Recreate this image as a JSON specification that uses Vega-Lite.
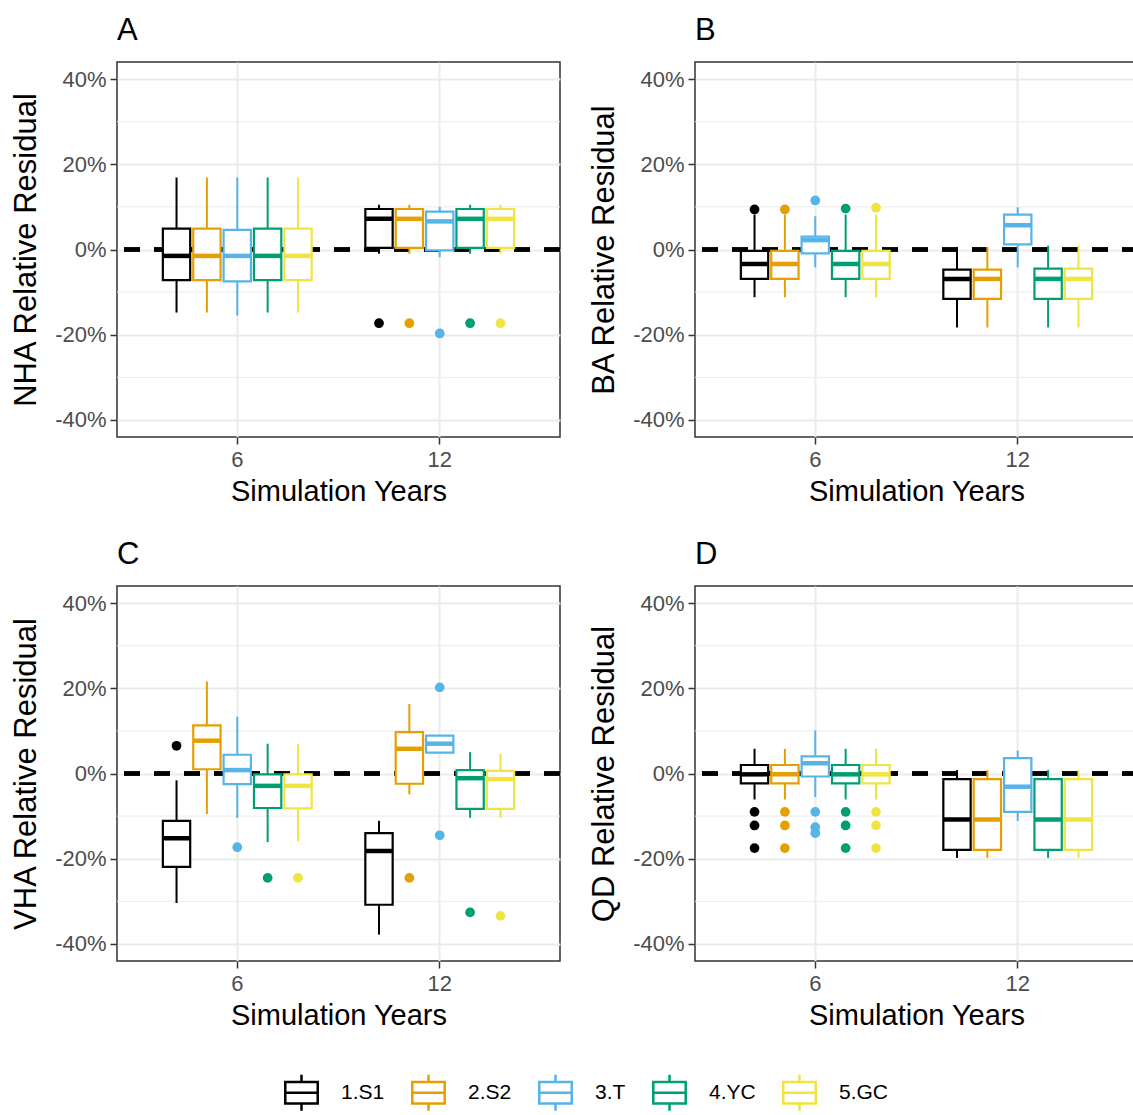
{
  "$schema": "https://vega.github.io/schema/vega-lite/v6.json",
  "padding": {"left": 9, "top": 14, "right": 0, "bottom": 0},
  "datasets": {
    "boxes": [
      {"panel": "A", "year": "6", "group": "1.S1", "lo": -0.148, "q1": -0.072, "med": -0.015, "q3": 0.049, "hi": 0.169},
      {"panel": "A", "year": "6", "group": "2.S2", "lo": -0.148, "q1": -0.072, "med": -0.015, "q3": 0.049, "hi": 0.169},
      {"panel": "A", "year": "6", "group": "3.T", "lo": -0.155, "q1": -0.075, "med": -0.015, "q3": 0.046, "hi": 0.169},
      {"panel": "A", "year": "6", "group": "4.YC", "lo": -0.148, "q1": -0.072, "med": -0.015, "q3": 0.049, "hi": 0.169},
      {"panel": "A", "year": "6", "group": "5.GC", "lo": -0.148, "q1": -0.072, "med": -0.015, "q3": 0.049, "hi": 0.169},
      {"panel": "A", "year": "12", "group": "1.S1", "lo": -0.010, "q1": 0.004, "med": 0.072, "q3": 0.095, "hi": 0.105},
      {"panel": "A", "year": "12", "group": "2.S2", "lo": -0.010, "q1": 0.004, "med": 0.072, "q3": 0.095, "hi": 0.105},
      {"panel": "A", "year": "12", "group": "3.T", "lo": -0.018, "q1": -0.002, "med": 0.066, "q3": 0.089, "hi": 0.100},
      {"panel": "A", "year": "12", "group": "4.YC", "lo": -0.010, "q1": 0.004, "med": 0.072, "q3": 0.095, "hi": 0.105},
      {"panel": "A", "year": "12", "group": "5.GC", "lo": -0.010, "q1": 0.004, "med": 0.072, "q3": 0.095, "hi": 0.105},
      {"panel": "B", "year": "6", "group": "1.S1", "lo": -0.112, "q1": -0.069, "med": -0.034, "q3": -0.003, "hi": 0.082},
      {"panel": "B", "year": "6", "group": "2.S2", "lo": -0.112, "q1": -0.069, "med": -0.034, "q3": -0.003, "hi": 0.082},
      {"panel": "B", "year": "6", "group": "3.T", "lo": -0.042, "q1": -0.009, "med": 0.022, "q3": 0.030, "hi": 0.078},
      {"panel": "B", "year": "6", "group": "4.YC", "lo": -0.112, "q1": -0.069, "med": -0.034, "q3": -0.003, "hi": 0.082},
      {"panel": "B", "year": "6", "group": "5.GC", "lo": -0.112, "q1": -0.069, "med": -0.034, "q3": -0.003, "hi": 0.082},
      {"panel": "B", "year": "12", "group": "1.S1", "lo": -0.183, "q1": -0.116, "med": -0.069, "q3": -0.047, "hi": 0.006},
      {"panel": "B", "year": "12", "group": "2.S2", "lo": -0.183, "q1": -0.116, "med": -0.069, "q3": -0.047, "hi": 0.006},
      {"panel": "B", "year": "12", "group": "3.T", "lo": -0.042, "q1": 0.012, "med": 0.057, "q3": 0.082, "hi": 0.099},
      {"panel": "B", "year": "12", "group": "4.YC", "lo": -0.183, "q1": -0.116, "med": -0.069, "q3": -0.045, "hi": 0.009},
      {"panel": "B", "year": "12", "group": "5.GC", "lo": -0.183, "q1": -0.116, "med": -0.069, "q3": -0.045, "hi": 0.009},
      {"panel": "C", "year": "6", "group": "1.S1", "lo": -0.304, "q1": -0.219, "med": -0.152, "q3": -0.111, "hi": -0.016},
      {"panel": "C", "year": "6", "group": "2.S2", "lo": -0.095, "q1": 0.010, "med": 0.077, "q3": 0.113, "hi": 0.216},
      {"panel": "C", "year": "6", "group": "3.T", "lo": -0.104, "q1": -0.025, "med": 0.008, "q3": 0.044, "hi": 0.133},
      {"panel": "C", "year": "6", "group": "4.YC", "lo": -0.161, "q1": -0.081, "med": -0.029, "q3": -0.002, "hi": 0.070},
      {"panel": "C", "year": "6", "group": "5.GC", "lo": -0.159, "q1": -0.082, "med": -0.029, "q3": -0.002, "hi": 0.070},
      {"panel": "C", "year": "12", "group": "1.S1", "lo": -0.378, "q1": -0.308, "med": -0.182, "q3": -0.140, "hi": -0.111},
      {"panel": "C", "year": "12", "group": "2.S2", "lo": -0.049, "q1": -0.024, "med": 0.058, "q3": 0.097, "hi": 0.163},
      {"panel": "C", "year": "12", "group": "3.T", "lo": 0.049, "q1": 0.049, "med": 0.070, "q3": 0.089, "hi": 0.089},
      {"panel": "C", "year": "12", "group": "4.YC", "lo": -0.104, "q1": -0.083, "med": -0.011, "q3": 0.008, "hi": 0.050},
      {"panel": "C", "year": "12", "group": "5.GC", "lo": -0.104, "q1": -0.083, "med": -0.013, "q3": 0.006, "hi": 0.046},
      {"panel": "D", "year": "6", "group": "1.S1", "lo": -0.061, "q1": -0.023, "med": -0.002, "q3": 0.020, "hi": 0.058},
      {"panel": "D", "year": "6", "group": "2.S2", "lo": -0.061, "q1": -0.023, "med": -0.002, "q3": 0.020, "hi": 0.058},
      {"panel": "D", "year": "6", "group": "3.T", "lo": -0.055, "q1": -0.007, "med": 0.024, "q3": 0.040, "hi": 0.101},
      {"panel": "D", "year": "6", "group": "4.YC", "lo": -0.061, "q1": -0.023, "med": -0.002, "q3": 0.020, "hi": 0.058},
      {"panel": "D", "year": "6", "group": "5.GC", "lo": -0.061, "q1": -0.023, "med": -0.002, "q3": 0.020, "hi": 0.058},
      {"panel": "D", "year": "12", "group": "1.S1", "lo": -0.198, "q1": -0.179, "med": -0.108, "q3": -0.013, "hi": 0.008},
      {"panel": "D", "year": "12", "group": "2.S2", "lo": -0.198, "q1": -0.179, "med": -0.108, "q3": -0.013, "hi": 0.008},
      {"panel": "D", "year": "12", "group": "3.T", "lo": -0.111, "q1": -0.090, "med": -0.031, "q3": 0.036, "hi": 0.054},
      {"panel": "D", "year": "12", "group": "4.YC", "lo": -0.198, "q1": -0.179, "med": -0.108, "q3": -0.013, "hi": 0.008},
      {"panel": "D", "year": "12", "group": "5.GC", "lo": -0.198, "q1": -0.179, "med": -0.108, "q3": -0.013, "hi": 0.008}
    ],
    "outliers": [
      {"panel": "A", "year": "12", "group": "1.S1", "value": -0.173},
      {"panel": "A", "year": "12", "group": "2.S2", "value": -0.173},
      {"panel": "A", "year": "12", "group": "3.T", "value": -0.197},
      {"panel": "A", "year": "12", "group": "4.YC", "value": -0.173},
      {"panel": "A", "year": "12", "group": "5.GC", "value": -0.173},
      {"panel": "B", "year": "6", "group": "1.S1", "value": 0.094},
      {"panel": "B", "year": "6", "group": "2.S2", "value": 0.094},
      {"panel": "B", "year": "6", "group": "3.T", "value": 0.115},
      {"panel": "B", "year": "6", "group": "4.YC", "value": 0.096},
      {"panel": "B", "year": "6", "group": "5.GC", "value": 0.098},
      {"panel": "C", "year": "6", "group": "1.S1", "value": 0.065},
      {"panel": "C", "year": "6", "group": "3.T", "value": -0.173},
      {"panel": "C", "year": "6", "group": "4.YC", "value": -0.245},
      {"panel": "C", "year": "6", "group": "5.GC", "value": -0.245},
      {"panel": "C", "year": "12", "group": "2.S2", "value": -0.245},
      {"panel": "C", "year": "12", "group": "3.T", "value": 0.202},
      {"panel": "C", "year": "12", "group": "3.T", "value": -0.145},
      {"panel": "C", "year": "12", "group": "4.YC", "value": -0.326},
      {"panel": "C", "year": "12", "group": "5.GC", "value": -0.334},
      {"panel": "D", "year": "6", "group": "1.S1", "value": -0.090},
      {"panel": "D", "year": "6", "group": "1.S1", "value": -0.122},
      {"panel": "D", "year": "6", "group": "1.S1", "value": -0.175},
      {"panel": "D", "year": "6", "group": "2.S2", "value": -0.090},
      {"panel": "D", "year": "6", "group": "2.S2", "value": -0.122},
      {"panel": "D", "year": "6", "group": "2.S2", "value": -0.175},
      {"panel": "D", "year": "6", "group": "3.T", "value": -0.090},
      {"panel": "D", "year": "6", "group": "3.T", "value": -0.126},
      {"panel": "D", "year": "6", "group": "3.T", "value": -0.140},
      {"panel": "D", "year": "6", "group": "4.YC", "value": -0.090},
      {"panel": "D", "year": "6", "group": "4.YC", "value": -0.122},
      {"panel": "D", "year": "6", "group": "4.YC", "value": -0.175},
      {"panel": "D", "year": "6", "group": "5.GC", "value": -0.090},
      {"panel": "D", "year": "6", "group": "5.GC", "value": -0.122},
      {"panel": "D", "year": "6", "group": "5.GC", "value": -0.175}
    ],
    "minor": [{"v": -0.3}, {"v": -0.1}, {"v": 0.1}, {"v": 0.3}]
  },
  "columns": 2,
  "spacing": {"row": 31, "column": 24},
  "resolve": {"scale": {"stroke": "shared", "fill": "shared"}, "legend": {"stroke": "shared"}},
  "concat": [
    {
      "title": {"text": "A", "fontSize": 31, "anchor": "start", "frame": "group", "fontWeight": "normal", "offset": 15},
      "width": 443, "height": 375,
      "layer": [
        {"data": {"name": "minor"}, "mark": {"type": "rule", "color": "#EBEBEB", "strokeWidth": 1},
         "encoding": {"y": {"field": "v", "type": "quantitative", "scale": {"domain": [-0.44, 0.44], "nice": false, "zero": false}, "axis": {"title": "NHA Relative Residual", "values": [-0.4, -0.2, 0, 0.2, 0.4], "labelExpr": "(datum.value < 0 ? '-' : '') + format(abs(datum.value), '.0%')"}}}},
        {"data": {"name": "minor"}, "mark": {"type": "rule", "color": "black", "strokeWidth": 4, "strokeDash": [16, 14]},
         "encoding": {"y": {"datum": 0, "type": "quantitative"}}},
        {"data": {"name": "boxes"}, "transform": [{"filter": "datum.panel == 'A'"}], "mark": {"type": "rule", "strokeWidth": 2},
         "encoding": {"x": {"field": "year", "type": "nominal", "sort": ["6", "12"], "scale": {"domain": ["6", "12"], "paddingInner": 0.25, "paddingOuter": 0.219}, "axis": {"title": "Simulation Years"}},
          "xOffset": {"field": "group", "type": "nominal", "scale": {"domain": ["1.S1", "2.S2", "3.T", "4.YC", "5.GC"], "paddingInner": 0.1, "paddingOuter": 0.05}},
          "y": {"field": "lo", "type": "quantitative"}, "y2": {"field": "hi"},
          "stroke": {"field": "group", "type": "nominal", "title": null, "scale": {"domain": ["1.S1", "2.S2", "3.T", "4.YC", "5.GC"], "range": ["#000000", "#E69F00", "#56B4E9", "#009E73", "#F0E442"]}}}},
        {"data": {"name": "boxes"}, "transform": [{"filter": "datum.panel == 'A'"}], "mark": {"type": "bar", "width": {"band": 1}, "fill": "white"},
         "encoding": {"x": {"field": "year", "type": "nominal", "sort": ["6", "12"]},
          "xOffset": {"field": "group", "type": "nominal"},
          "y": {"field": "q1", "type": "quantitative"}, "y2": {"field": "q3"}}},
        {"data": {"name": "boxes"}, "transform": [{"filter": "datum.panel == 'A'"}], "mark": {"type": "bar", "width": {"band": 1}, "filled": false, "strokeWidth": 2.2},
         "encoding": {"x": {"field": "year", "type": "nominal", "sort": ["6", "12"]},
          "xOffset": {"field": "group", "type": "nominal"},
          "y": {"field": "q1", "type": "quantitative"}, "y2": {"field": "q3"},
          "stroke": {"field": "group", "type": "nominal", "title": null}}},
        {"data": {"name": "boxes"}, "transform": [{"filter": "datum.panel == 'A'"}], "mark": {"type": "tick", "orient": "horizontal", "size": 27.3, "thickness": 4.5, "opacity": 1},
         "encoding": {"x": {"field": "year", "type": "nominal", "sort": ["6", "12"]},
          "xOffset": {"field": "group", "type": "nominal"},
          "y": {"field": "med", "type": "quantitative"},
          "fill": {"field": "group", "type": "nominal", "legend": null, "scale": {"range": ["#000000", "#E69F00", "#56B4E9", "#009E73", "#F0E442"]}}}},
        {"data": {"name": "outliers"}, "transform": [{"filter": "datum.panel == 'A'"}], "mark": {"type": "point", "filled": true, "opacity": 1, "size": 95},
         "encoding": {"x": {"field": "year", "type": "nominal", "sort": ["6", "12"]},
          "xOffset": {"field": "group", "type": "nominal"},
          "y": {"field": "value", "type": "quantitative"},
          "fill": {"field": "group", "type": "nominal", "legend": null}}}
      ]
    },
    {
      "title": {"text": "B", "fontSize": 31, "anchor": "start", "frame": "group", "fontWeight": "normal", "offset": 15},
      "width": 443, "height": 375,
      "layer": [
        {"data": {"name": "minor"}, "mark": {"type": "rule", "color": "#EBEBEB", "strokeWidth": 1},
         "encoding": {"y": {"field": "v", "type": "quantitative", "scale": {"domain": [-0.44, 0.44], "nice": false, "zero": false}, "axis": {"title": "BA Relative Residual", "values": [-0.4, -0.2, 0, 0.2, 0.4], "labelExpr": "(datum.value < 0 ? '-' : '') + format(abs(datum.value), '.0%')"}}}},
        {"data": {"name": "minor"}, "mark": {"type": "rule", "color": "black", "strokeWidth": 4, "strokeDash": [16, 14]},
         "encoding": {"y": {"datum": 0, "type": "quantitative"}}},
        {"data": {"name": "boxes"}, "transform": [{"filter": "datum.panel == 'B'"}], "mark": {"type": "rule", "strokeWidth": 2},
         "encoding": {"x": {"field": "year", "type": "nominal", "sort": ["6", "12"], "scale": {"domain": ["6", "12"], "paddingInner": 0.25, "paddingOuter": 0.219}, "axis": {"title": "Simulation Years"}},
          "xOffset": {"field": "group", "type": "nominal", "scale": {"domain": ["1.S1", "2.S2", "3.T", "4.YC", "5.GC"], "paddingInner": 0.1, "paddingOuter": 0.05}},
          "y": {"field": "lo", "type": "quantitative"}, "y2": {"field": "hi"},
          "stroke": {"field": "group", "type": "nominal", "title": null}}},
        {"data": {"name": "boxes"}, "transform": [{"filter": "datum.panel == 'B'"}], "mark": {"type": "bar", "width": {"band": 1}, "fill": "white"},
         "encoding": {"x": {"field": "year", "type": "nominal", "sort": ["6", "12"]},
          "xOffset": {"field": "group", "type": "nominal"},
          "y": {"field": "q1", "type": "quantitative"}, "y2": {"field": "q3"}}},
        {"data": {"name": "boxes"}, "transform": [{"filter": "datum.panel == 'B'"}], "mark": {"type": "bar", "width": {"band": 1}, "filled": false, "strokeWidth": 2.2},
         "encoding": {"x": {"field": "year", "type": "nominal", "sort": ["6", "12"]},
          "xOffset": {"field": "group", "type": "nominal"},
          "y": {"field": "q1", "type": "quantitative"}, "y2": {"field": "q3"},
          "stroke": {"field": "group", "type": "nominal", "title": null}}},
        {"data": {"name": "boxes"}, "transform": [{"filter": "datum.panel == 'B'"}], "mark": {"type": "tick", "orient": "horizontal", "size": 27.3, "thickness": 4.5, "opacity": 1},
         "encoding": {"x": {"field": "year", "type": "nominal", "sort": ["6", "12"]},
          "xOffset": {"field": "group", "type": "nominal"},
          "y": {"field": "med", "type": "quantitative"},
          "fill": {"field": "group", "type": "nominal", "legend": null}}},
        {"data": {"name": "outliers"}, "transform": [{"filter": "datum.panel == 'B'"}], "mark": {"type": "point", "filled": true, "opacity": 1, "size": 95},
         "encoding": {"x": {"field": "year", "type": "nominal", "sort": ["6", "12"]},
          "xOffset": {"field": "group", "type": "nominal"},
          "y": {"field": "value", "type": "quantitative"},
          "fill": {"field": "group", "type": "nominal", "legend": null}}}
      ]
    },
    {
      "title": {"text": "C", "fontSize": 31, "anchor": "start", "frame": "group", "fontWeight": "normal", "offset": 15},
      "width": 443, "height": 375,
      "layer": [
        {"data": {"name": "minor"}, "mark": {"type": "rule", "color": "#EBEBEB", "strokeWidth": 1},
         "encoding": {"y": {"field": "v", "type": "quantitative", "scale": {"domain": [-0.44, 0.44], "nice": false, "zero": false}, "axis": {"title": "VHA Relative Residual", "values": [-0.4, -0.2, 0, 0.2, 0.4], "labelExpr": "(datum.value < 0 ? '-' : '') + format(abs(datum.value), '.0%')"}}}},
        {"data": {"name": "minor"}, "mark": {"type": "rule", "color": "black", "strokeWidth": 4, "strokeDash": [16, 14]},
         "encoding": {"y": {"datum": 0, "type": "quantitative"}}},
        {"data": {"name": "boxes"}, "transform": [{"filter": "datum.panel == 'C'"}], "mark": {"type": "rule", "strokeWidth": 2},
         "encoding": {"x": {"field": "year", "type": "nominal", "sort": ["6", "12"], "scale": {"domain": ["6", "12"], "paddingInner": 0.25, "paddingOuter": 0.219}, "axis": {"title": "Simulation Years"}},
          "xOffset": {"field": "group", "type": "nominal", "scale": {"domain": ["1.S1", "2.S2", "3.T", "4.YC", "5.GC"], "paddingInner": 0.1, "paddingOuter": 0.05}},
          "y": {"field": "lo", "type": "quantitative"}, "y2": {"field": "hi"},
          "stroke": {"field": "group", "type": "nominal", "title": null}}},
        {"data": {"name": "boxes"}, "transform": [{"filter": "datum.panel == 'C'"}], "mark": {"type": "bar", "width": {"band": 1}, "fill": "white"},
         "encoding": {"x": {"field": "year", "type": "nominal", "sort": ["6", "12"]},
          "xOffset": {"field": "group", "type": "nominal"},
          "y": {"field": "q1", "type": "quantitative"}, "y2": {"field": "q3"}}},
        {"data": {"name": "boxes"}, "transform": [{"filter": "datum.panel == 'C'"}], "mark": {"type": "bar", "width": {"band": 1}, "filled": false, "strokeWidth": 2.2},
         "encoding": {"x": {"field": "year", "type": "nominal", "sort": ["6", "12"]},
          "xOffset": {"field": "group", "type": "nominal"},
          "y": {"field": "q1", "type": "quantitative"}, "y2": {"field": "q3"},
          "stroke": {"field": "group", "type": "nominal", "title": null}}},
        {"data": {"name": "boxes"}, "transform": [{"filter": "datum.panel == 'C'"}], "mark": {"type": "tick", "orient": "horizontal", "size": 27.3, "thickness": 4.5, "opacity": 1},
         "encoding": {"x": {"field": "year", "type": "nominal", "sort": ["6", "12"]},
          "xOffset": {"field": "group", "type": "nominal"},
          "y": {"field": "med", "type": "quantitative"},
          "fill": {"field": "group", "type": "nominal", "legend": null}}},
        {"data": {"name": "outliers"}, "transform": [{"filter": "datum.panel == 'C'"}], "mark": {"type": "point", "filled": true, "opacity": 1, "size": 95},
         "encoding": {"x": {"field": "year", "type": "nominal", "sort": ["6", "12"]},
          "xOffset": {"field": "group", "type": "nominal"},
          "y": {"field": "value", "type": "quantitative"},
          "fill": {"field": "group", "type": "nominal", "legend": null}}}
      ]
    },
    {
      "title": {"text": "D", "fontSize": 31, "anchor": "start", "frame": "group", "fontWeight": "normal", "offset": 15},
      "width": 443, "height": 375,
      "layer": [
        {"data": {"name": "minor"}, "mark": {"type": "rule", "color": "#EBEBEB", "strokeWidth": 1},
         "encoding": {"y": {"field": "v", "type": "quantitative", "scale": {"domain": [-0.44, 0.44], "nice": false, "zero": false}, "axis": {"title": "QD Relative Residual", "values": [-0.4, -0.2, 0, 0.2, 0.4], "labelExpr": "(datum.value < 0 ? '-' : '') + format(abs(datum.value), '.0%')"}}}},
        {"data": {"name": "minor"}, "mark": {"type": "rule", "color": "black", "strokeWidth": 4, "strokeDash": [16, 14]},
         "encoding": {"y": {"datum": 0, "type": "quantitative"}}},
        {"data": {"name": "boxes"}, "transform": [{"filter": "datum.panel == 'D'"}], "mark": {"type": "rule", "strokeWidth": 2},
         "encoding": {"x": {"field": "year", "type": "nominal", "sort": ["6", "12"], "scale": {"domain": ["6", "12"], "paddingInner": 0.25, "paddingOuter": 0.219}, "axis": {"title": "Simulation Years"}},
          "xOffset": {"field": "group", "type": "nominal", "scale": {"domain": ["1.S1", "2.S2", "3.T", "4.YC", "5.GC"], "paddingInner": 0.1, "paddingOuter": 0.05}},
          "y": {"field": "lo", "type": "quantitative"}, "y2": {"field": "hi"},
          "stroke": {"field": "group", "type": "nominal", "title": null}}},
        {"data": {"name": "boxes"}, "transform": [{"filter": "datum.panel == 'D'"}], "mark": {"type": "bar", "width": {"band": 1}, "fill": "white"},
         "encoding": {"x": {"field": "year", "type": "nominal", "sort": ["6", "12"]},
          "xOffset": {"field": "group", "type": "nominal"},
          "y": {"field": "q1", "type": "quantitative"}, "y2": {"field": "q3"}}},
        {"data": {"name": "boxes"}, "transform": [{"filter": "datum.panel == 'D'"}], "mark": {"type": "bar", "width": {"band": 1}, "filled": false, "strokeWidth": 2.2},
         "encoding": {"x": {"field": "year", "type": "nominal", "sort": ["6", "12"]},
          "xOffset": {"field": "group", "type": "nominal"},
          "y": {"field": "q1", "type": "quantitative"}, "y2": {"field": "q3"},
          "stroke": {"field": "group", "type": "nominal", "title": null}}},
        {"data": {"name": "boxes"}, "transform": [{"filter": "datum.panel == 'D'"}], "mark": {"type": "tick", "orient": "horizontal", "size": 27.3, "thickness": 4.5, "opacity": 1},
         "encoding": {"x": {"field": "year", "type": "nominal", "sort": ["6", "12"]},
          "xOffset": {"field": "group", "type": "nominal"},
          "y": {"field": "med", "type": "quantitative"},
          "fill": {"field": "group", "type": "nominal", "legend": null}}},
        {"data": {"name": "outliers"}, "transform": [{"filter": "datum.panel == 'D'"}], "mark": {"type": "point", "filled": true, "opacity": 1, "size": 95},
         "encoding": {"x": {"field": "year", "type": "nominal", "sort": ["6", "12"]},
          "xOffset": {"field": "group", "type": "nominal"},
          "y": {"field": "value", "type": "quantitative"},
          "fill": {"field": "group", "type": "nominal", "legend": null}}}
      ]
    }
  ],
  "config": {
    "font": "Liberation Sans",
    "background": "white",
    "view": {"stroke": "#333333", "strokeWidth": 1.5},
    "axis": {"grid": true, "gridColor": "#EBEBEB", "gridWidth": 2, "domain": false, "tickColor": "#333333", "tickSize": 7, "tickWidth": 1.5, "labelColor": "#4D4D4D", "labelFontSize": 22, "labelFont": "Liberation Sans", "titleFont": "Liberation Sans", "titleColor": "black", "titleFontWeight": "normal"},
    "axisX": {"titleFontSize": 29, "labelPadding": 5, "titlePadding": 7, "labelAngle": 0, "bandPosition": 0.5},
    "axisY": {"titleFontSize": 31, "labelPadding": 4, "titlePadding": 12},
    "legend": {"orient": "none", "direction": "horizontal", "legendX": 165, "legendY": 1011, "symbolType": "M-0.9,-0.6H0.9V0.6H-0.9Z M-0.9,0H0.9 M0,-0.6V-1 M0,0.6V1", "symbolSize": 1300, "symbolStrokeWidth": 2.5, "symbolFillColor": "white", "labelFontSize": 21, "labelColor": "black", "labelFont": "Liberation Sans", "labelOffset": 20, "columnPadding": 22}
  }
}
